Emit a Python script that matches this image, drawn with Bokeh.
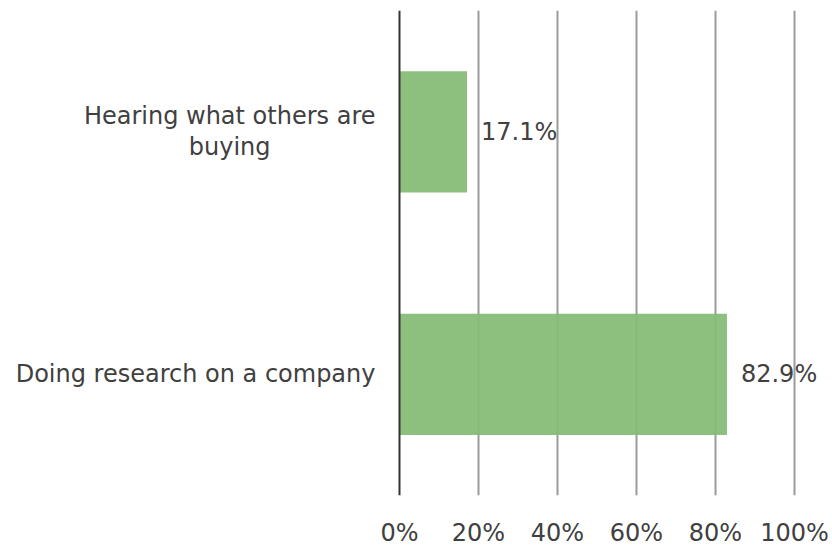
from bokeh.plotting import figure
from bokeh.models import ColumnDataSource, FactorRange, Range1d, FixedTicker, PrintfTickFormatter, Span
from bokeh.core.properties import value
from bokeh.embed import file_html
from bokeh.resources import INLINE

categories = ["Doing research on a company", "Hearing what others are\nbuying"]
values = [82.9, 17.1]
labels = ["82.9%", "17.1%"]
x_ticks = [0, 20, 40, 60, 80, 100]

FONT = "DejaVu Sans"
TXT = "#404040"
FS = "24px"

src = ColumnDataSource(dict(cat=categories, val=values, lab=labels, zero=[0, 0]))

# frame spans the full width; x=0 sits at 399px, x=100 at 794px
p = figure(width=832, height=549, output_backend="svg", toolbar_location=None,
           y_range=FactorRange(factors=categories), x_range=Range1d(-101.01, 109.62),
           min_border_left=0, min_border_right=0, min_border_top=10, min_border_bottom=49)
p.outline_line_color = None

p.hbar(y="cat", right="val", left=0, height=0.5, source=src,
       fill_color="#86BC76", fill_alpha=0.94, line_color=None)
p.text(x="val", y="cat", text="lab", source=src, x_offset=14, text_baseline="middle",
       text_align="left", text_font=value(FONT), text_font_size=FS, text_color=TXT)
# category labels: block right-aligned to the axis, lines centred
p.text(x="zero", y="cat", text="cat", source=src, x_offset=-24, anchor="center_right",
       text_align="center", text_baseline="middle", text_line_height=1.12,
       text_font=value(FONT), text_font_size=FS, text_color=TXT)

p.add_layout(Span(location=0, dimension="height", line_color="#333333", line_width=2))

xa = p.xaxis[0]
xa.ticker = FixedTicker(ticks=x_ticks)
xa.formatter = PrintfTickFormatter(format="%d%%")
xa.axis_line_color = None
xa.major_tick_line_color = None
xa.major_tick_out = 0
xa.minor_tick_line_color = None
xa.major_label_text_font = FONT
xa.major_label_text_font_size = FS
xa.major_label_text_color = TXT
xa.major_label_standoff = 23

p.yaxis.visible = False

p.xgrid.grid_line_color = "#9a9a9a"
p.xgrid.grid_line_width = 2
p.xgrid.ticker = FixedTicker(ticks=x_ticks[1:])
p.ygrid.grid_line_color = None

open("out.html", "w").write(file_html(p, INLINE))
